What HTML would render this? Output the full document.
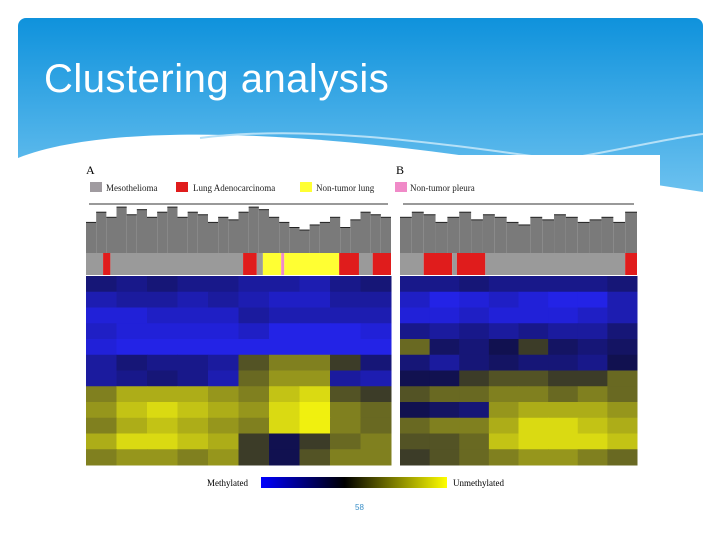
<!DOCTYPE html>
<html><head><meta charset="utf-8"><style>
html,body{margin:0;padding:0;width:720px;height:540px;overflow:hidden;background:#fff}
svg{display:block}
</style></head><body>
<svg id="s" width="720" height="540" viewBox="0 0 720 540">
<defs>
<linearGradient id="hg" x1="0" y1="0" x2="0" y2="1"><stop offset="0" stop-color="#0f92dc"/><stop offset="1" stop-color="#79c8f2"/></linearGradient>
<linearGradient id="cb" x1="0" y1="0" x2="1" y2="0"><stop offset="0" stop-color="#0000ff"/><stop offset="0.45" stop-color="#000000"/><stop offset="1" stop-color="#ffff00"/></linearGradient>
</defs>
<rect x="18" y="18" width="685" height="200" rx="8" fill="url(#hg)"/>
<path d="M18,158 C110,122 300,132 480,158 L703,192 L703,540 L18,540 Z" fill="#fff"/>
<path d="M200,138 C300,125 420,140 560,160 C620,150 670,138 703,134" fill="none" stroke="#b5e0f7" stroke-width="2"/>
<text x="44" y="92" font-family="Liberation Sans, sans-serif" font-size="40" letter-spacing="0.5" fill="#fff">Clustering analysis</text>
<rect x="80" y="155" width="580" height="345" fill="#fff"/>
<text x="86" y="174" font-family="Liberation Serif, serif" font-size="12">A</text>
<text x="396" y="174" font-family="Liberation Serif, serif" font-size="12">B</text>
<g font-family="Liberation Serif, serif" font-size="9" fill="#222">
<rect x="90" y="182" width="12" height="10" fill="#a09ba0"/><text x="106" y="191">Mesothelioma</text>
<rect x="176" y="182" width="12" height="10" fill="#e01c1c"/><text x="193" y="191">Lung Adenocarcinoma</text>
<rect x="300" y="182" width="12" height="10" fill="#ffff33"/><text x="316" y="191">Non-tumor lung</text>
<rect x="395" y="182" width="12" height="10" fill="#f08ac8"/><text x="410" y="191">Non-tumor pleura</text>
</g>
<g id="plots"></g>
<rect x="261" y="477" width="186" height="11" fill="url(#cb)"/>
<text x="207" y="486" font-family="Liberation Serif, serif" font-size="9">Methylated</text>
<text x="453" y="486" font-family="Liberation Serif, serif" font-size="9">Unmethylated</text>
<text x="355" y="510" font-family="Liberation Sans, sans-serif" font-size="8" fill="#3a8fc8">58</text>
</svg>
<script>
const heatA = [
[-0.3,-0.4,-0.3,-0.4,-0.4,-0.5,-0.5,-0.6,-0.4,-0.3],
[-0.6,-0.5,-0.5,-0.6,-0.5,-0.6,-0.7,-0.7,-0.5,-0.5],
[-0.8,-0.8,-0.7,-0.7,-0.7,-0.5,-0.6,-0.6,-0.6,-0.6],
[-0.7,-0.8,-0.8,-0.8,-0.8,-0.7,-0.9,-0.9,-0.9,-0.8],
[-0.8,-0.9,-0.9,-0.9,-0.9,-0.9,-0.9,-0.9,-0.9,-0.9],
[-0.5,-0.3,-0.4,-0.4,-0.5,0.1,0.3,0.3,0.0,-0.3],
[-0.5,-0.4,-0.3,-0.4,-0.6,0.2,0.4,0.4,-0.5,-0.6],
[0.3,0.5,0.5,0.5,0.4,0.3,0.6,0.7,0.1,0.0],
[0.4,0.6,0.7,0.6,0.5,0.4,0.7,0.8,0.3,0.2],
[0.3,0.5,0.6,0.5,0.4,0.3,0.7,0.8,0.3,0.2],
[0.5,0.7,0.7,0.6,0.5,0.0,-0.1,0.0,0.2,0.3],
[0.3,0.4,0.4,0.3,0.4,0.0,-0.1,0.1,0.3,0.3]];
const heatB = [
[-0.4,-0.4,-0.3,-0.4,-0.4,-0.4,-0.4,-0.3],
[-0.7,-0.9,-0.8,-0.7,-0.8,-0.9,-0.9,-0.6],
[-0.8,-0.8,-0.7,-0.8,-0.8,-0.8,-0.7,-0.6],
[-0.4,-0.5,-0.4,-0.5,-0.4,-0.5,-0.5,-0.3],
[0.2,-0.2,-0.3,-0.1,0.0,-0.2,-0.3,-0.2],
[-0.3,-0.5,-0.3,-0.2,-0.3,-0.3,-0.4,-0.1],
[-0.1,-0.1,0.0,0.1,0.1,0.0,0.0,0.2],
[0.1,0.2,0.2,0.3,0.3,0.2,0.3,0.2],
[-0.1,-0.2,-0.3,0.4,0.5,0.5,0.5,0.4],
[0.2,0.3,0.3,0.5,0.7,0.7,0.6,0.5],
[0.1,0.1,0.2,0.6,0.7,0.7,0.7,0.6],
[0.0,0.1,0.2,0.3,0.4,0.4,0.3,0.2]];
const annotStartsA = [0,0.056,0.08,0.515,0.56,0.58,0.64,0.65,0.83,0.895,0.94];
const annotTypesA = ["meso","adeno","meso","adeno","meso","lung","pleura","lung","adeno","meso","adeno"];
const annotStartsB = [0,0.1,0.22,0.24,0.36,0.95];
const annotTypesB = ["meso","adeno","meso","adeno","meso","adeno"];
const leavesA = [0.6,0.8,0.7,0.9,0.75,0.85,0.7,0.8,0.9,0.7,0.8,0.75,0.6,0.7,0.65,0.8,0.9,0.85,0.7,0.6,0.5,0.45,0.55,0.6,0.7,0.5,0.65,0.8,0.75,0.7];
const leavesB = [0.7,0.8,0.75,0.6,0.7,0.8,0.65,0.75,0.7,0.6,0.55,0.7,0.65,0.75,0.7,0.6,0.65,0.7,0.6,0.8];
const typeColor = {meso:"#9a9a9a", adeno:"#e01c1c", lung:"#ffff33", pleura:"#f08ac8"};
const NS="http://www.w3.org/2000/svg";
const g=document.getElementById('plots');
function col(v){
  if(v<0){const t=Math.min(1,-v*1.15);return `rgb(${Math.round(15+20*t)},${Math.round(15+20*t)},${Math.round(60+170*t)})`;}
  const t=Math.min(1,v*1.25);return `rgb(${Math.round(60+180*t)},${Math.round(60+180*t)},${Math.round(40-25*t)})`;
}
function panel(name,x0,x1,data,starts,types,leaves){
  const top=276,bot=465,w=x1-x0;
  const rh=(bot-top)/data.length;
  data.forEach((row,i)=>{const cw=w/row.length;row.forEach((v,j)=>{
    const r=document.createElementNS(NS,'rect');
    r.setAttribute('x',x0+j*cw);r.setAttribute('y',top+i*rh);
    r.setAttribute('width',cw+0.5);r.setAttribute('height',rh+0.5);
    r.setAttribute('fill',col(v));
    
    
    g.appendChild(r);});});
  starts.forEach((s,i)=>{
    const e=i+1<starts.length?starts[i+1]:1;
    const r=document.createElementNS(NS,'rect');
    r.setAttribute('x',x0+s*w);r.setAttribute('y',253);
    r.setAttribute('width',(e-s)*w);r.setAttribute('height',22);
    r.setAttribute('fill',typeColor[types[i]]);
    
    
    g.appendChild(r);});
  const lw=w/leaves.length, dTop=202, dBot=253;
  const bg=document.createElementNS(NS,'rect');
  bg.setAttribute('x',x0);bg.setAttribute('y',dTop);bg.setAttribute('width',w);bg.setAttribute('height',dBot-dTop);bg.setAttribute('fill','none');
  
  
  g.appendChild(bg);
  const hl=document.createElementNS(NS,'line');
  hl.setAttribute('x1',x0+3);hl.setAttribute('x2',x1-3);hl.setAttribute('y1',dTop+2);hl.setAttribute('y2',dTop+2);hl.setAttribute('stroke','#333');
  g.appendChild(hl);
  leaves.forEach((h,i)=>{
    const y=dBot-h*(dBot-dTop);
    const r=document.createElementNS(NS,'rect');
    r.setAttribute('x',x0+i*lw);r.setAttribute('y',y);r.setAttribute('width',lw);r.setAttribute('height',dBot-y);
    r.setAttribute('fill','#7a7a7a');
    
    
    g.appendChild(r);
    const l=document.createElementNS(NS,'line');
    l.setAttribute('x1',x0+i*lw);l.setAttribute('x2',x0+(i+1)*lw);l.setAttribute('y1',y);l.setAttribute('y2',y);l.setAttribute('stroke','#222');
    g.appendChild(l);
  });
}
panel('panel-a',86,391,heatA,annotStartsA,annotTypesA,leavesA);
panel('panel-b',400,637,heatB,annotStartsB,annotTypesB,leavesB);
</script>
</body></html>
